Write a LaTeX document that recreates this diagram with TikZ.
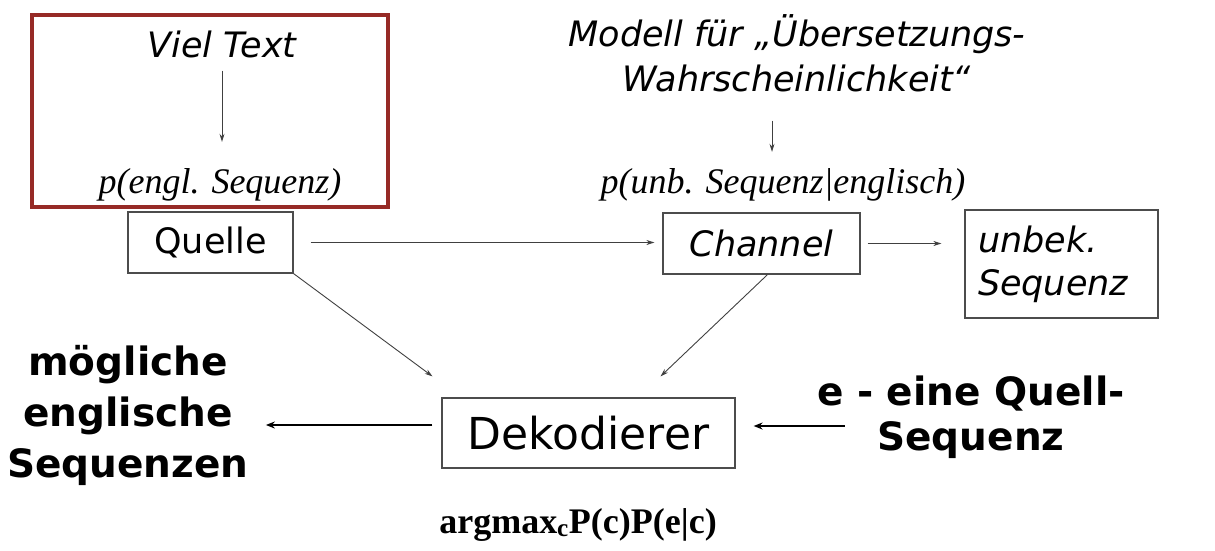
\documentclass[tikz,border=0pt]{standalone}
\usepackage{fontspec}
\setmainfont{DejaVu Sans}
\newfontfamily\timesfont{Liberation Serif}
\usetikzlibrary{calc, arrows.meta}

\definecolor{rahmenrot}{RGB}{150,42,38}
\newcommand\gross{\fontsize{35}{44}\selectfont}
\newcommand\formelgr{\timesfont\fontsize{36}{40}\selectfont}

\tikzset{
  kasten/.style={draw=black!70, line width=1.2pt, inner sep=0pt},
  txt/.style={inner sep=0pt, anchor=base},
  pfeil/.style={-{Stealth[length=8pt, width=5pt]}, draw=black!75, line width=0.9pt},
  dickpfeil/.style={-{Stealth[length=9pt, width=7pt]}, line width=2pt},
}

\begin{document}
\begin{tikzpicture}[x=1pt, y=-1pt]
\path [use as bounding box] (0,0) rectangle (1215,551);

% Quelle: Sprachmodell
\draw [rahmenrot, line width=3.5pt] (32,15) rectangle (388,207);
\node [txt, font=\gross\itshape] (viel) at (222,58) {Viel Text};
\node [txt, font=\formelgr\itshape] (pengl) at (220,193) {p(engl. Sequenz)};
\draw [pfeil, shorten <=12pt, shorten >=26pt] (viel.south) -- (viel.south |- pengl.north);

% Kanal: Uebersetzungsmodell (base = letzte Zeile)
\node [txt, align=center, font=\gross\itshape] (modell) at (797,91) {Modell für „Übersetzungs-\\Wahrscheinlichkeit“};
\node [txt, font=\formelgr\itshape] (punb) at (783,193) {p(unb. Sequenz|englisch)};
\draw [pfeil, shorten <=29pt, shorten >=16pt] ([xshift=-25pt]modell.south) -- ([xshift=-11pt]punb.north);

% Kette
\node [kasten, minimum width=165pt, minimum height=61pt, font=\gross] (quelle) at (210.5,242.5) {Quelle};
\node [kasten, minimum width=197pt, minimum height=61pt, font=\gross\itshape] (channel) at (761.5,243.5) {Channel};
\node [kasten, minimum width=193pt, minimum height=108pt, text width=167pt, align=left, font=\fontsize{35}{43}\selectfont\itshape] (unbek) at (1061.5,264) {unbek.\\Sequenz};
\node [kasten, minimum width=293pt, minimum height=70pt, font=\fontsize{44}{50}\selectfont] (dekodierer) at (588.5,433) {Dekodierer};

\node [txt, align=center, font=\fontsize{39}{51}\selectfont\bfseries] (moeglich) at (128,477) {mögliche\\englische\\Sequenzen};
\node [txt, align=center, font=\fontsize{39}{45}\selectfont\bfseries] (quellseq) at (971,450) {e - eine Quell-\\Sequenz};
\node [txt, font=\formelgr\bfseries] (formel) at (578,533) {argmax\textsubscript{c}P(c)P(e|c)};

\draw [pfeil, shorten <=17pt, shorten >=8pt] (quelle.east) -- (quelle.east -| channel.west);
\draw [pfeil, shorten <=7pt, shorten >=23pt] (channel.east) -- (channel.east -| unbek.west);
\draw [pfeil] (quelle.south east) -- ([xshift=-156pt, yshift=21pt]dekodierer.north);
\draw [pfeil] ([xshift=6pt]channel.south) -- ([xshift=72pt, yshift=21pt]dekodierer.north);
\draw [dickpfeil, shorten <=9pt, shorten >=17pt] ($(dekodierer.west)+(0,-8)$) -- ($(dekodierer.west -| moeglich.east)+(0,-8)$);
\draw [dickpfeil, shorten >=18pt] ($(quellseq.west |- dekodierer.east)+(28,-7)$) -- ($(dekodierer.east)+(0,-7)$);
\end{tikzpicture}
\end{document}
